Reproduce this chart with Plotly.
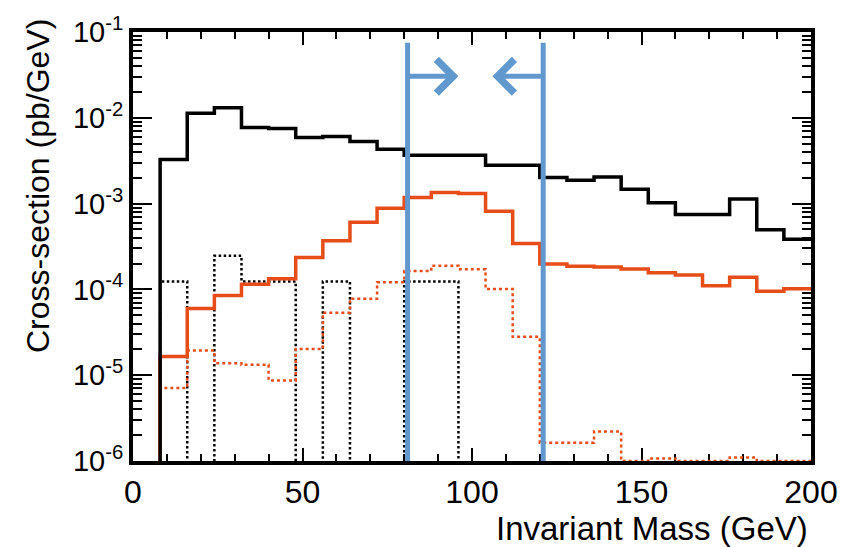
import numpy as np
import plotly.graph_objects as go

# ---------------- data ----------------
BIN_EDGES = list(range(0, 201, 8))  # 25 bins of 8 GeV

black_solid = [0, 3.27e-3, 1.13e-2, 1.31e-2, 7.7e-3, 7.5e-3, 5.9e-3, 6.07e-3,
               5.3e-3, 4.3e-3, 3.66e-3, 3.66e-3, 3.66e-3, 2.79e-3, 2.79e-3,
               2.01e-3, 1.87e-3, 2.04e-3, 1.47e-3, 1.02e-3, 7.45e-4, 7.45e-4,
               1.13e-3, 4.97e-4, 3.84e-4]

orange_solid = [0, 1.65e-5, 6.0e-5, 8.5e-5, 1.15e-4, 1.33e-4, 2.36e-4, 3.68e-4,
                6.08e-4, 8.83e-4, 1.18e-3, 1.35e-3, 1.31e-3, 8.15e-4, 3.43e-4,
                1.98e-4, 1.86e-4, 1.83e-4, 1.73e-4, 1.56e-4, 1.47e-4, 1.10e-4,
                1.39e-4, 9.5e-5, 1.02e-4]

black_dotted = [0, 1.24e-4, 0, 2.47e-4, 1.24e-4, 1.24e-4, 0, 1.24e-4,
                0, 0, 1.24e-4, 1.24e-4, 0, 0, 0,
                0, 0, 0, 0, 0, 0, 0,
                0, 0, 0]

orange_dotted = [0, 7.1e-6, 1.94e-5, 1.38e-5, 1.32e-5, 8.7e-6, 2.02e-5, 5.35e-5,
                 7.8e-5, 1.21e-4, 1.64e-4, 1.89e-4, 1.72e-4, 1.01e-4, 2.8e-5,
                 1.63e-6, 1.63e-6, 2.2e-6, 1.0e-6, 1.07e-6, 1.0e-6, 1.0e-6,
                 1.1e-6, 1.0e-6, 1.0e-6]

CUT_LOW = 81
CUT_HIGH = 121
CUT_LINE_TOP = 7.5e-2
ARROW_Y = 3.05e-2
ARROW_LEN = 15

Y_TICK_VALS = [1e-6, 1e-5, 1e-4, 1e-3, 1e-2, 1e-1]
Y_TICK_TEXT = ["10<sup>-6</sup>", "10<sup>-5</sup>", "10<sup>-4</sup>",
               "10<sup>-3</sup>", "10<sup>-2</sup>", "10<sup>-1</sup>"]
X_TICK_VALS = [0, 50, 100, 150, 200]

BLACK = "#000000"
ORANGE = "#E64D19"
BLUE = "#6199CF"
FLOOR = 1e-8  # used to draw empty bins below the visible range

Y_MINOR_VALS = [m * 10.0 ** e for e in range(-6, -1) for m in range(2, 10)]
X_MINOR_VALS = [v for v in range(10, 200, 10) if v % 50]


def step_xy(values):
    y = [v if v > 0 else FLOOR for v in values]
    return BIN_EDGES, y + [y[-1]]


fig = go.Figure()


def add_hist(values, color, width, dash):
    x, y = step_xy(values)
    fig.add_trace(go.Scatter(x=x, y=y, mode="lines", line_shape="hv",
                             line=dict(color=color, width=width, dash=dash),
                             showlegend=False, hoverinfo="skip"))


add_hist(black_dotted, BLACK, 2.5, "2.5px,2.5px")
add_hist(orange_dotted, ORANGE, 2.5, "3px,3px")
add_hist(orange_solid, ORANGE, 3.5, "solid")
add_hist(black_solid, BLACK, 3.5, "solid")

for xc in (CUT_LOW, CUT_HIGH):
    fig.add_trace(go.Scatter(x=[xc, xc], y=[FLOOR, CUT_LINE_TOP], mode="lines",
                             line=dict(color=BLUE, width=5),
                             showlegend=False, hoverinfo="skip"))

for x0, x1 in ((CUT_LOW, CUT_LOW + ARROW_LEN), (CUT_HIGH, CUT_HIGH - ARROW_LEN)):
    fig.add_annotation(x=x1, y=np.log10(ARROW_Y), ax=x0, ay=np.log10(ARROW_Y),
                       xref="x", yref="y", axref="x", ayref="y",
                       showarrow=True, arrowhead=4, arrowsize=1.3,
                       arrowwidth=5, arrowcolor=BLUE, text="")

FONT = "Liberation Sans, Arial, Helvetica, sans-serif"

fig.update_xaxes(range=[0, 200], tickvals=X_TICK_VALS,
                 ticks="inside", ticklen=13, tickwidth=1.5, tickcolor="black",
                 minor=dict(tickvals=X_MINOR_VALS, ticks="inside", ticklen=7, tickwidth=1.5,
                            tickcolor="black", showgrid=False),
                 showline=True, linewidth=4, linecolor="black", mirror="allticks",
                 showgrid=False, zeroline=False, layer="below traces",
                 tickfont=dict(family=FONT, size=32, color="black"))

fig.update_yaxes(type="log", range=[-6, -1], tickvals=Y_TICK_VALS, ticktext=Y_TICK_TEXT,
                 ticks="inside", ticklen=19, tickwidth=1.5, tickcolor="black",
                 minor=dict(tickvals=Y_MINOR_VALS, ticks="inside", ticklen=9, tickwidth=1.5,
                            tickcolor="black", showgrid=False),
                 showline=True, linewidth=4, linecolor="black", mirror="allticks",
                 showgrid=False, zeroline=False, layer="below traces",
                 tickfont=dict(family=FONT, size=29, color="black"))

L, R, T, B = 133, 33.5, 25, 86
W, H = 850, 547
pw, ph = W - L - R, H - T - B

fig.add_annotation(text="Cross-section (pb/GeV)", textangle=-90,
                   xref="paper", yref="paper",
                   x=(37 - L) / pw, y=((H - B) - 10) / ph,
                   xanchor="center", yanchor="top", showarrow=False,
                   font=dict(family=FONT, size=32, color="black"))
fig.add_annotation(text="Invariant Mass (GeV)",
                   xref="paper", yref="paper",
                   x=(815 - L) / pw, y=((H - B) - 530) / ph,
                   xanchor="right", yanchor="middle", showarrow=False,
                   font=dict(family=FONT, size=33, color="black"))

fig.update_layout(width=W, height=H, margin=dict(l=L, r=R, t=T, b=B),
                  plot_bgcolor="white", paper_bgcolor="white",
                  showlegend=False)

fig.write_html("out.html")
